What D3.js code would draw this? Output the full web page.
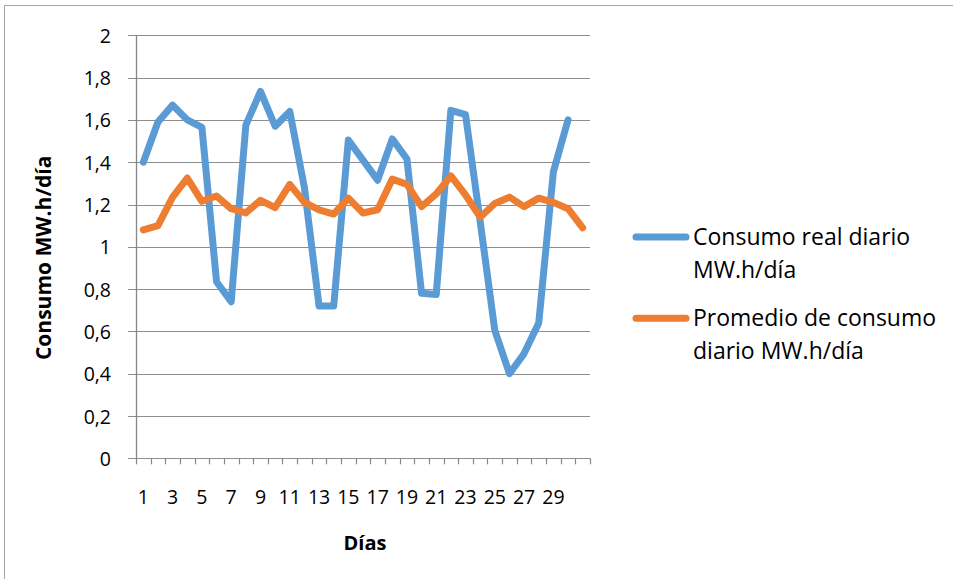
<!DOCTYPE html>
<html>
<head>
<meta charset="utf-8">
<script src="https://cdn.jsdelivr.net/npm/d3@7"></script>
<style>
  html, body { margin: 0; padding: 0; background: #fff; }
  svg { display: block; }
  text { font-family: "Open Sans", sans-serif; fill: #000; }
</style>
</head>
<body>
<svg id="chart" width="953" height="579"></svg>
<script>
// Días del mes (31 posiciones en el eje de categorías)
const days = d3.range(1, 32);
// Etiquetas visibles del eje X
const dayLabels = [1, 3, 5, 7, 9, 11, 13, 15, 17, 19, 21, 23, 25, 27, 29];
// Consumo real diario MW.h/día (30 días)
const consumoReal = [1.40, 1.59, 1.67, 1.60, 1.565, 0.835, 0.74, 1.575, 1.735, 1.57,
                     1.64, 1.28, 0.72, 0.72, 1.505, 1.41, 1.315, 1.51, 1.415, 0.78,
                     0.775, 1.645, 1.625, 1.12, 0.605, 0.40, 0.495, 0.64, 1.355, 1.60];
// Promedio de consumo diario MW.h/día (31 días)
const consumoPromedio = [1.08, 1.10, 1.235, 1.325, 1.215, 1.24, 1.18, 1.16, 1.22, 1.185,
                         1.295, 1.21, 1.175, 1.155, 1.23, 1.16, 1.175, 1.32, 1.295, 1.19,
                         1.25, 1.335, 1.245, 1.14, 1.205, 1.235, 1.19, 1.23, 1.21, 1.18, 1.09];
// Marcas del eje Y
const yTicks = [0, 0.2, 0.4, 0.6, 0.8, 1, 1.2, 1.4, 1.6, 1.8, 2];

const legendLines = [["Consumo real diario", "MW.h/día"], ["Promedio de consumo", "diario MW.h/día"]];
const colors = ["#5B9BD5", "#ED7D31"];

const svg = d3.select("#chart");
const plot = { left: 136, right: 590, top: 35.3, bottom: 458.3 };

// Marco del gráfico
svg.append("rect")
  .attr("x", 4.5).attr("y", 5.5)
  .attr("width", 1200).attr("height", 1200)
  .attr("fill", "none").attr("stroke", "#a6a6a6").attr("stroke-width", 1);

const x = d3.scaleBand().domain(days).range([plot.left, plot.right]).padding(0);
const y = d3.scaleLinear().domain([0, 2]).range([plot.bottom, plot.top]);

const fmt = v => String(+v.toFixed(1)).replace(".", ",");

// Líneas de división horizontales (con su marca a la izquierda)
svg.append("g")
  .selectAll("line")
  .data(yTicks)
  .join("line")
  .attr("x1", plot.left - 8).attr("x2", plot.right)
  .attr("y1", d => Math.round(y(d)) + 0.5).attr("y2", d => Math.round(y(d)) + 0.5)
  .attr("stroke", "#8e8e8e").attr("stroke-width", 1.2);

// Eje Y
const yAxis = svg.append("g")
  .attr("transform", `translate(${plot.left},0)`)
  .call(d3.axisLeft(y).tickValues(yTicks).tickFormat(fmt).tickSize(0).tickPadding(25));
yAxis.select(".domain").remove();
yAxis.attr("font-size", null).attr("font-family", null);
yAxis.selectAll("text")
  .style("font-size", "19.5px")
  .attr("dy", "0.36em");
svg.append("line")
  .attr("x1", plot.left + 0.5).attr("x2", plot.left + 0.5)
  .attr("y1", plot.top).attr("y2", plot.bottom)
  .attr("stroke", "#868686").attr("stroke-width", 1.3);

// Eje X
const xTickPositions = days.map(d => x(d)).concat([plot.right]);
svg.append("g")
  .selectAll("line")
  .data(xTickPositions)
  .join("line")
  .attr("x1", d => Math.round(d) + 0.5).attr("x2", d => Math.round(d) + 0.5)
  .attr("y1", plot.bottom).attr("y2", plot.bottom + 6)
  .attr("stroke", "#868686").attr("stroke-width", 1.2);

const xAxis = svg.append("g")
  .attr("transform", `translate(0,${plot.bottom})`)
  .call(d3.axisBottom(x).tickValues(dayLabels).tickSize(0).tickPadding(0));
xAxis.select(".domain").remove();
xAxis.attr("font-size", null).attr("font-family", null);
xAxis.selectAll("text")
  .style("font-size", "19.5px")
  .attr("dy", null)
  .attr("y", 45.5);

// Títulos de los ejes
svg.append("text")
  .attr("x", (plot.left + plot.right) / 2 + 2)
  .attr("y", 550)
  .attr("text-anchor", "middle")
  .style("font-weight", "bold")
  .style("font-size", "20px")
  .text("Días");

svg.append("text")
  .attr("transform", `translate(51,${(plot.top + plot.bottom) / 2 + 11}) rotate(-90)`)
  .attr("text-anchor", "middle")
  .style("font-weight", "bold")
  .style("font-size", "21px")
  .text("Consumo MW.h/día");

// Series
const line = d3.line()
  .x((d, i) => x(days[i]) + x.bandwidth() / 2)
  .y(d => y(d));

[consumoReal, consumoPromedio].forEach((values, k) => {
  svg.append("path")
    .datum(values)
    .attr("d", line)
    .attr("fill", "none")
    .attr("stroke", colors[k])
    .attr("stroke-width", 7)
    .attr("stroke-linejoin", "round")
    .attr("stroke-linecap", "round");
});

// Leyenda
const legendRows = [237, 318.3];
const legend = svg.append("g");
legendRows.forEach((ly, k) => {
  legend.append("line")
    .attr("x1", 636).attr("x2", 686)
    .attr("y1", ly).attr("y2", ly)
    .attr("stroke", colors[k]).attr("stroke-width", 7)
    .attr("stroke-linecap", "round");
  const t = legend.append("text")
    .attr("x", 693)
    .attr("y", ly + 8)
    .style("font-size", "23px");
  legendLines[k].forEach((s, j) => {
    t.append("tspan").attr("x", 693).attr("dy", j === 0 ? 0 : 32.5).text(s);
  });
});
</script>
</body>
</html>
